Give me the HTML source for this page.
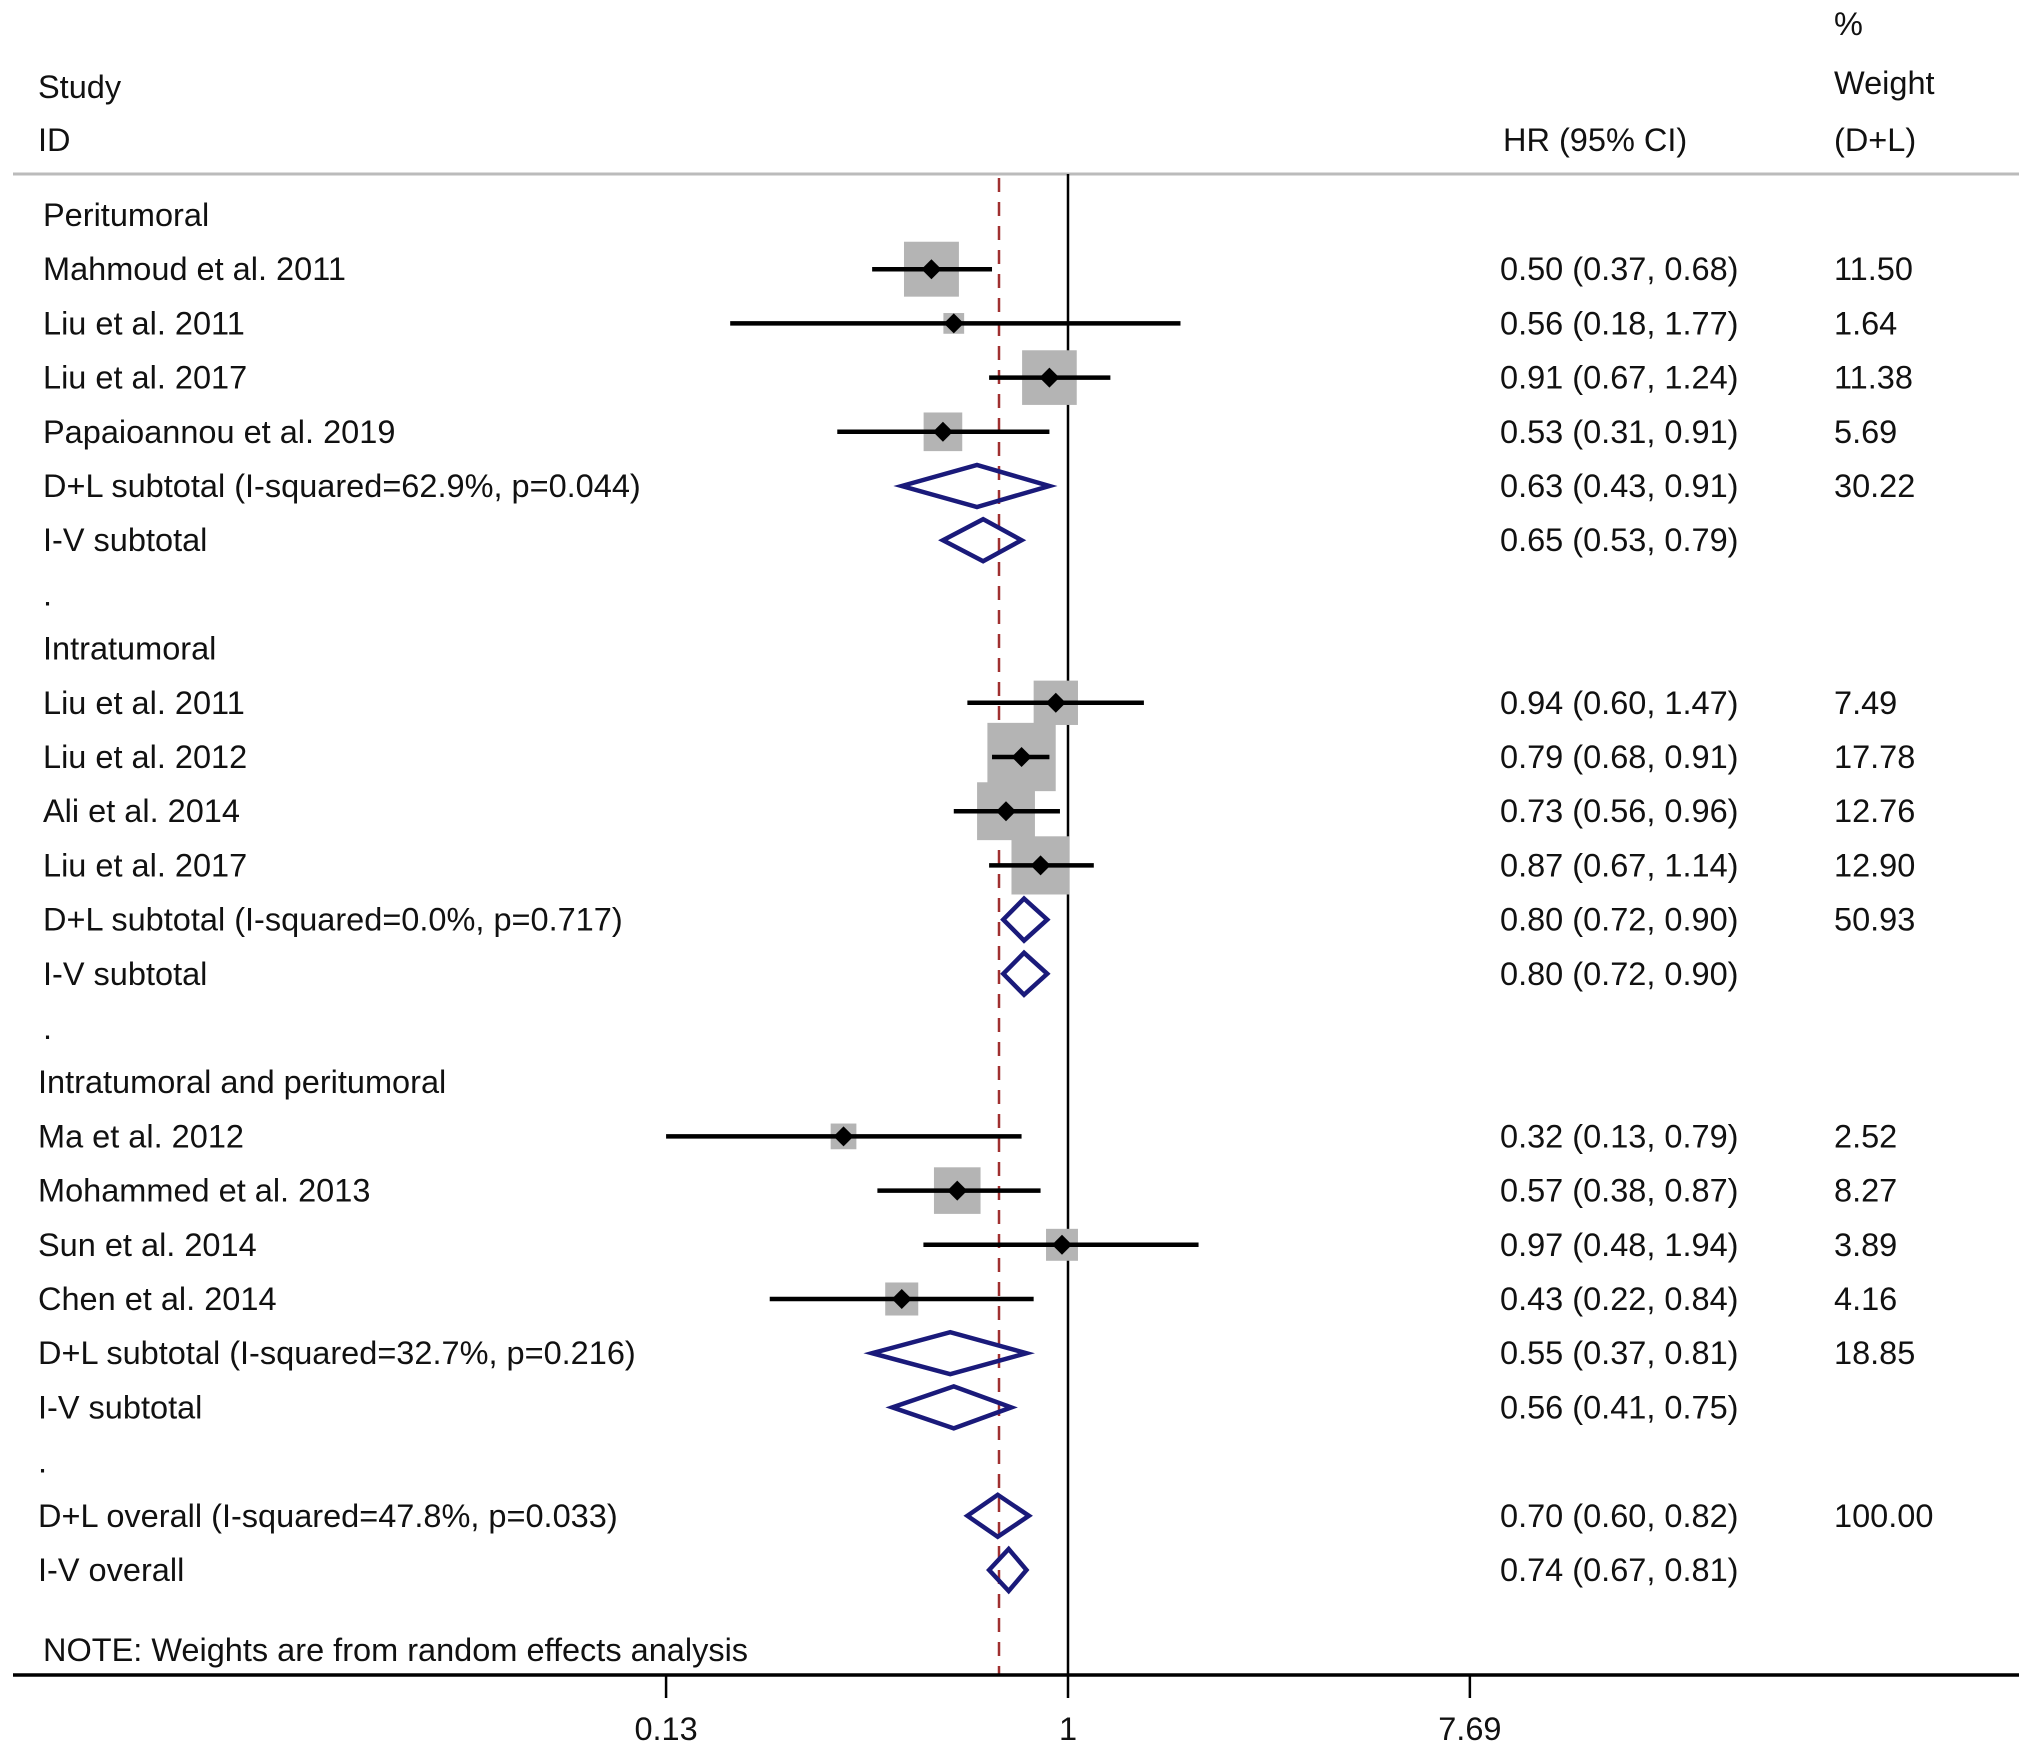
<!DOCTYPE html>
<html><head><meta charset="utf-8"><style>
html,body{margin:0;padding:0;background:#fff;}
svg{display:block;font-family:"Liberation Sans",sans-serif;}
</style></head><body>
<svg id="chart" width="2032" height="1753" viewBox="0 0 2032 1753" xmlns="http://www.w3.org/2000/svg">
<g font-size="32.5" fill="#111">
<text x="38" y="87" dominant-baseline="central">Study</text>
<text x="38" y="140" dominant-baseline="central">ID</text>
<text x="1503" y="140" dominant-baseline="central">HR (95% CI)</text>
<text x="1834" y="24" dominant-baseline="central">%</text>
<text x="1834" y="83" dominant-baseline="central">Weight</text>
<text x="1834" y="140" dominant-baseline="central">(D+L)</text>
</g>
<line x1="13" y1="174" x2="2019" y2="174" stroke="#bbb" stroke-width="3"/>
<line x1="1068" y1="174" x2="1068" y2="1675" stroke="#000" stroke-width="2.5"/>
<line x1="999" y1="178" x2="999" y2="1675" stroke="#a03030" stroke-width="2.5" stroke-dasharray="14,10"/>
<g id="rows"></g>
<text x="43" y="1650" font-size="32.5" dominant-baseline="central" fill="#111">NOTE: Weights are from random effects analysis</text>
<line x1="13" y1="1675" x2="2019" y2="1675" stroke="#000" stroke-width="3.5"/>
<g id="axis"></g>
</svg>
<script>
const labels=["Peritumoral","Mahmoud et al. 2011","Liu et al. 2011","Liu et al. 2017","Papaioannou et al. 2019","D+L subtotal (I-squared=62.9%, p=0.044)","I-V subtotal",".","Intratumoral","Liu et al. 2011","Liu et al. 2012","Ali et al. 2014","Liu et al. 2017","D+L subtotal (I-squared=0.0%, p=0.717)","I-V subtotal",".","Intratumoral and peritumoral","Ma et al. 2012","Mohammed et al. 2013","Sun et al. 2014","Chen et al. 2014","D+L subtotal (I-squared=32.7%, p=0.216)","I-V subtotal",".","D+L overall (I-squared=47.8%, p=0.033)","I-V overall"];
const kinds=["h","s","s","s","s","d","d","h","h","s","s","s","s","d","d","h","h","s","s","s","s","d","d","h","d","d"];
const hr=[null,0.50,0.56,0.91,0.53,0.63,0.65,null,null,0.94,0.79,0.73,0.87,0.80,0.80,null,null,0.32,0.57,0.97,0.43,0.55,0.56,null,0.70,0.74];
const lo=[null,0.37,0.18,0.67,0.31,0.43,0.53,null,null,0.60,0.68,0.56,0.67,0.72,0.72,null,null,0.13,0.38,0.48,0.22,0.37,0.41,null,0.60,0.67];
const hi=[null,0.68,1.77,1.24,0.91,0.91,0.79,null,null,1.47,0.91,0.96,1.14,0.90,0.90,null,null,0.79,0.87,1.94,0.84,0.81,0.75,null,0.82,0.81];
const weights=[null,11.50,1.64,11.38,5.69,30.22,null,null,null,7.49,17.78,12.76,12.90,50.93,null,null,null,2.52,8.27,3.89,4.16,18.85,null,null,100.00,null];
const tickVals=[0.13,1,7.69];
const tickLabels=["0.13","1","7.69"];
const NS="http://www.w3.org/2000/svg";
function xs(v){return 1068+197*Math.log(v);}
function ys(i){return 215+i*54.2;}
function mk(t,a,p){const e=document.createElementNS(NS,t);for(const k in a)e.setAttribute(k,a[k]);p.appendChild(e);return e;}
const rows=document.getElementById('rows');
const f2=v=>v.toFixed(2);
labels.forEach((lab,i)=>{
  const y=ys(i);
  const lx=(i>=16)?38:43;
  const t=mk('text',{x:lx,y:y,'font-size':32.5,'dominant-baseline':'central',fill:'#111'},rows);
  
  
  t.textContent=lab;
  if(hr[i]==null)return;
  const ht=mk('text',{x:1500,y:y,'font-size':32.5,'dominant-baseline':'central',fill:'#111'},rows);
  
  
  ht.textContent=f2(hr[i])+' ('+f2(lo[i])+', '+f2(hi[i])+')';
  if(weights[i]!=null){
    const wt=mk('text',{x:1834,y:y,'font-size':32.5,'dominant-baseline':'central',fill:'#111'},rows);
    
    
    wt.textContent=f2(weights[i]);
  }
  const cx=xs(hr[i]);
  if(kinds[i]=='s'){
    const s=16.2*Math.sqrt(weights[i]);
    const sq=mk('rect',{x:cx-s/2,y:y-s/2,width:s,height:s,fill:'#b4b4b4'},rows);
    
    
    const ln=mk('line',{x1:xs(lo[i]),y1:y,x2:xs(hi[i]),y2:y,stroke:'#000','stroke-width':4.5},rows);
    
    
    const d=10;
    const pt=mk('polygon',{points:`${cx-d},${y} ${cx},${y-d} ${cx+d},${y} ${cx},${y+d}`,fill:'#000'},rows);
    
    
  } else {
    const h=21;
    const dm=mk('polygon',{points:`${xs(lo[i])},${y} ${cx},${y-h} ${xs(hi[i])},${y} ${cx},${y+h}`,fill:'none',stroke:'#1a1a7a','stroke-width':4.5},rows);
    
    
  }
});
const ax=document.getElementById('axis');
tickVals.forEach((v,i)=>{
  const tk=mk('line',{x1:xs(v),y1:1675,x2:xs(v),y2:1698,stroke:'#000','stroke-width':2.5},ax);
  
  
  const tl=mk('text',{x:xs(v),y:1729,'font-size':32.5,'text-anchor':'middle','dominant-baseline':'central',fill:'#111'},ax);
  
  
  tl.textContent=tickLabels[i];
});
</script>
</body></html>
